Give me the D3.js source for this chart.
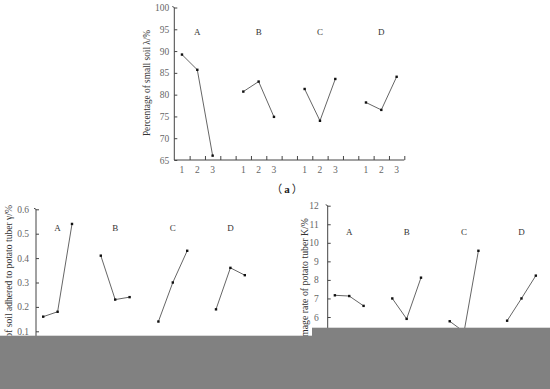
<!DOCTYPE html>
<html>
<head>
<meta charset="utf-8">
<script src="https://cdn.jsdelivr.net/npm/d3@7"></script>
<style>
  body { margin: 0; background: #fff; }
  svg { display: block; }
  text { font-family: "Liberation Serif", "DejaVu Serif", serif; }
</style>
</head>
<body>
<div id="chart"></div>
<script>
var width = 550, height = 389;

// factors and levels (orthogonal test, range analysis)
var factors = ["A", "B", "C", "D"];
var levels = ["1", "2", "3"];

// small soil percentage lambda (%)
var smallSoil = {
  A: [89.2, 85.7, 66.0],
  B: [80.7, 83.0, 74.9],
  C: [81.3, 74.0, 83.6],
  D: [78.2, 76.5, 84.1]
};
// soil adhered to potato tuber gamma (%)
var adhered = {
  A: [0.16, 0.18, 0.54],
  B: [0.41, 0.23, 0.24],
  C: [0.14, 0.30, 0.43],
  D: [0.19, 0.36, 0.33]
};
// damage rate of potato tuber K (%)
var damage = {
  A: [7.17, 7.13, 6.6],
  B: [7.0, 5.9, 8.12],
  C: [5.77, 5.2, 9.57],
  D: [5.8, 7.0, 8.23]
};

var ticksTop = [65, 70, 75, 80, 85, 90, 95, 100];
var ticksLeft = [0.1, 0.2, 0.3, 0.4, 0.5, 0.6];
var ticksRight = [5, 6, 7, 8, 9, 10, 11, 12];

// 15 slots: 3 levels per factor and an empty slot between factors
var slots = [];
factors.forEach(function(f, i) {
  levels.forEach(function(l) { slots.push(f + l); });
  if (i < factors.length - 1) slots.push("gap" + i);
});

var svg = d3.select("#chart").append("svg")
  .attr("width", width)
  .attr("height", height);

function drawPanel(opt) {
  var g = svg.append("g");
  var x = d3.scaleBand().domain(slots).range([opt.x0, opt.x1]);
  var xl = d3.scaleLinear().domain([0, slots.length]).range([opt.x0, opt.x1]);
  var y = d3.scaleLinear().domain(opt.domain).range([opt.yb, opt.yt]);

  // y axis
  var ya = g.append("g")
    .attr("transform", "translate(" + opt.x0 + ",0)")
    .call(d3.axisLeft(y).tickValues(opt.ticks).tickSize(-3).tickPadding(opt.pad).tickFormat(opt.fmt));
  ya.select(".domain").attr("stroke", "#444").attr("d", "M-2," + (opt.yt - 1) + "L0," + opt.yt + "V" + opt.yb);
  ya.selectAll(".tick line").attr("stroke", "#444");
  ya.selectAll(".tick text").attr("fill", "#666").attr("font-size", 9.5).attr("font-family", null);

  // x axis: ticks at slot boundaries, labels at slot centres
  var xa = g.append("g")
    .attr("transform", "translate(0," + opt.yb + ")")
    .call(d3.axisBottom(xl).ticks(15).tickSize(-4).tickFormat(""));
  xa.select(".domain").attr("stroke", "#444").attr("d", "M" + opt.x0 + ",0H" + opt.x1);
  xa.selectAll(".tick line").attr("stroke", "#444");
  xa.selectAll(".tick").filter(function(d) { return d === 0; }).remove();

  if (opt.xlabels) {
    g.selectAll(".xlab")
      .data(slots.filter(function(s) { return s.indexOf("gap") < 0; }))
      .enter().append("text")
      .attr("x", function(d) { return x(d) + x.bandwidth() / 2; })
      .attr("y", opt.yb + 13)
      .attr("text-anchor", "middle")
      .attr("fill", "#666")
      .style("font-size", "9.5px")
      .text(function(d) { return d.slice(1); });
  }

  // lines per factor
  var line = d3.line()
    .x(function(d) { return x(d.k) + x.bandwidth() / 2; })
    .y(function(d) { return y(d.v); });

  factors.forEach(function(f) {
    var pts = opt.data[f].map(function(v, i) { return { k: f + levels[i], v: v }; });
    g.append("path")
      .attr("d", line(pts))
      .attr("fill", "none")
      .attr("stroke", "#666")
      .attr("stroke-width", 1);
    g.selectAll(".pt" + f)
      .data(pts)
      .enter().append("rect")
      .attr("x", function(d) { return x(d.k) + x.bandwidth() / 2 - 1.2; })
      .attr("y", function(d) { return y(d.v) - 1.2; })
      .attr("width", 2.4)
      .attr("height", 2.4)
      .attr("fill", "#111");
    g.append("text")
      .attr("x", x(f + "2") + x.bandwidth() / 2)
      .attr("y", y(opt.letterY))
      .attr("dy", "0.35em")
      .attr("text-anchor", "middle")
      .attr("fill", "#333")
      .style("font-size", "9px")
      .text(f);
  });

  // y label
  g.append("text")
    .attr("transform", "translate(" + opt.lx + "," + opt.ly + ") rotate(-90)")
    .attr("text-anchor", opt.anchor)
    .attr("dy", "0.35em")
    .attr("fill", "#333")
    .style("font-size", opt.lsize + "px")
    .text(opt.label);
}

drawPanel({
  x0: 174.3, x1: 404.3, yt: 7.5, yb: 160,
  domain: [65, 100], ticks: ticksTop, pad: 5, fmt: d3.format("d"),
  data: smallSoil, letterY: 94.4, xlabels: true,
  lx: 147, ly: 83, anchor: "middle", lsize: 9.3,
  label: "Percentage of small soil λ/%"
});

drawPanel({
  x0: 36, x1: 252, yt: 209.3, yb: 355.7,
  domain: [0, 0.6], ticks: ticksLeft, pad: 7, fmt: d3.format(".1f"),
  data: adhered, letterY: 0.525, xlabels: false,
  lx: 8.5, ly: 205, anchor: "end", lsize: 9.6,
  label: "Percentage of soil adhered to potato tuber γ/%"
});

drawPanel({
  x0: 327.7, x1: 543, yt: 205.7, yb: 354.1,
  domain: [4, 12], ticks: ticksRight, pad: 9, fmt: d3.format("d"),
  data: damage, letterY: 10.6, xlabels: false,
  lx: 305, ly: 218, anchor: "end", lsize: 9.8,
  label: "Damage rate of potato tuber K/%"
});

// caption of the top panel
var cap = svg.append("text")
  .attr("x", 287)
  .attr("y", 189.5)
  .attr("dy", "0.35em")
  .attr("text-anchor", "middle")
  .attr("fill", "#222")
  .style("font-size", "11px")
  .style("font-family", "'Noto Sans CJK SC', serif");
cap.append("tspan").text("（");
cap.append("tspan").attr("dx", 2).style("font-family", "'Liberation Serif', serif").style("font-weight", "bold").text("a");
cap.append("tspan").attr("dx", 2).text("）");

// grey masks over the lower part of the figure
svg.append("rect").attr("x", 0).attr("y", 335.7).attr("width", width).attr("height", 60).attr("fill", "#818181");
svg.append("rect").attr("x", 312).attr("y", 327.7).attr("width", 238).attr("height", 70).attr("fill", "#818181");
</script>
</body>
</html>
